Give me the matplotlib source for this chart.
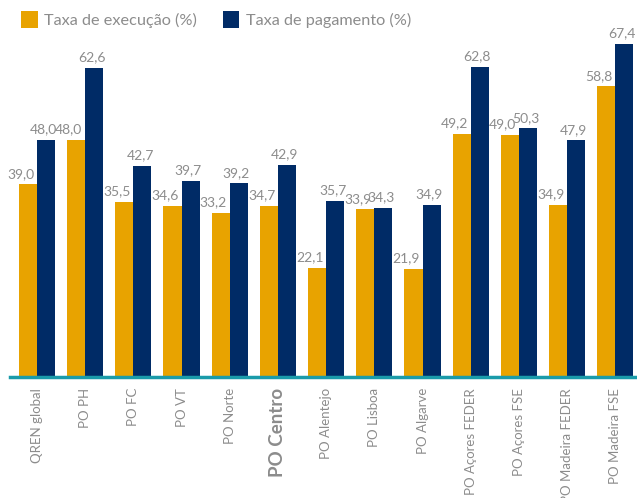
import matplotlib
matplotlib.use("Agg")
import matplotlib.pyplot as plt
import numpy as np

# dados
programas = ["QREN global", "PO PH", "PO FC", "PO VT", "PO Norte", "PO Centro",
             "PO Alentejo", "PO Lisboa", "PO Algarve", "PO Açores FEDER",
             "PO Açores FSE", "PO Madeira FEDER", "PO Madeira FSE"]
execucao = [39.0, 48.0, 35.5, 34.6, 33.2, 34.7, 22.1, 33.9, 21.9, 49.2, 49.0, 34.9, 58.8]
pagamento = [48.0, 62.6, 42.7, 39.7, 39.2, 42.9, 35.7, 34.3, 34.9, 62.8, 50.3, 47.9, 67.4]

cor_exec = "#E8A300"
cor_pag = "#002B66"
cinza = "#8C8C8C"

plt.rcParams['font.family'] = ['Lato', 'DejaVu Sans']

fig = plt.figure(figsize=(6.37, 4.98), dpi=100)
ax = fig.add_axes([10/637, 121/498, 627/637, 377/498])

x = np.arange(len(programas))
w = 0.375
b1 = ax.bar(x - w/2, execucao, w, color=cor_exec, label="Taxa de execução (%)")
b2 = ax.bar(x + w/2, pagamento, w, color=cor_pag, label="Taxa de pagamento (%)")

# rotulos dos valores (levemente deslocados para a esquerda, como no original)
for barras, desloc in ((b1, -0.15), (b2, -0.05)):
    for r in barras:
        h = r.get_height()
        ax.text(r.get_x() + r.get_width()/2 + desloc, h + 0.9, f"{h:.1f}".replace(".", ","),
                ha="center", va="bottom", fontsize=10, color=cinza)

ax.set_xlim(-0.56, 12.45)
ax.set_ylim(0, 76.3)
ax.set_yticks([])
ax.set_xticks(x)
ax.set_xticklabels(programas, rotation=90, fontsize=9.5, color=cinza)
for lab in ax.get_xticklabels():
    if lab.get_text() == "PO Centro":
        lab.set_fontsize(13.5)
        lab.set_fontweight("bold")
ax.tick_params(axis="x", length=0, pad=8)

for s in ["top", "right", "left"]:
    ax.spines[s].set_visible(False)
ax.spines["bottom"].set_color("#1A9BAA")
ax.spines["bottom"].set_linewidth(2.5)

leg = ax.legend(loc="upper left", bbox_to_anchor=(0.0, 1.0), ncol=2, frameon=False,
                fontsize=11.7, handlelength=1.0, handleheight=1.2, columnspacing=1.6,
                handletextpad=0.4, borderaxespad=0.3)
for t in leg.get_texts():
    t.set_color(cinza)

fig.savefig("out.png", dpi=100)
